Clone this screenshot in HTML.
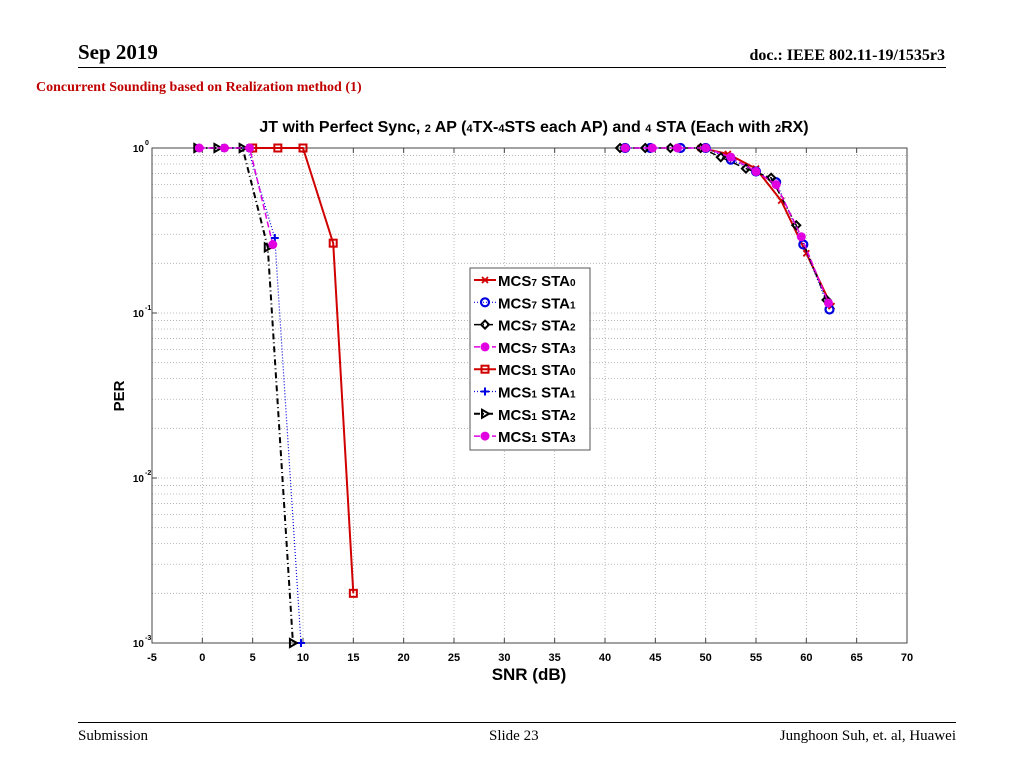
<!DOCTYPE html>
<html><head><meta charset="utf-8"><style>
body{margin:0;background:#fff;width:1024px;height:768px;overflow:hidden;position:relative;font-family:"Liberation Serif",serif}
.abs{position:absolute}
</style></head><body>
<div class="abs" style="left:78px;top:40px;font-size:21px;font-weight:bold">Sep 2019</div>
<div class="abs" style="right:79px;top:47px;font-size:16px;font-weight:bold">doc.: IEEE 802.11-19/1535r3</div>
<div class="abs" style="left:78px;top:67px;width:868px;height:1px;background:#000"></div>
<div class="abs" style="left:36px;top:80px;font-size:14px;font-weight:bold;color:#c00000">Concurrent Sounding based on Realization method (1)</div>
<div class="abs" style="left:78px;top:722px;width:878px;height:1px;background:#000"></div>
<div class="abs" style="left:78px;top:728px;font-size:15px">Submission</div>
<div class="abs" style="left:489px;top:728px;font-size:15px">Slide 23</div>
<div class="abs" style="right:68px;top:728px;font-size:15px">Junghoon Suh, et. al, Huawei</div>
<svg id="chart" class="abs" style="left:0;top:0" width="1024" height="768"></svg>
<script>
const xTicks=[-5,0,5,10,15,20,25,30,35,40,45,50,55,60,65,70];
const yDecades=[0,-1,-2,-3];
const m7s0x=[49.5,52.2,55,57.5,60,62.5], m7s0y=[1,0.92,0.75,0.48,0.23,0.11];
const m7s1x=[42,44.5,47.5,50,52.5,55,57,59.7,62.3], m7s1y=[1,1,1,1,0.85,0.72,0.62,0.26,0.105];
const m7s2x=[41.5,44,46.5,49.5,51.5,54,56.5,59,62], m7s2y=[1,1,1,1,0.88,0.75,0.66,0.34,0.12];
const m7s3x=[42,44.7,47.2,50,52.5,55,57,59.5,62.2], m7s3y=[1,1,1,1,0.88,0.72,0.6,0.29,0.115];
const m1s0x=[5,7.5,10,13,15], m1s0y=[1,1,1,0.265,0.002];
const m1s1x=[-0.5,2,4.5,7.2,9.8], m1s1y=[1,1,1,0.285,0.001];
const m1s2x=[-0.5,1.5,4,6.5,9], m1s2y=[1,1,1,0.25,0.001];
const m1s3x=[-0.3,2.2,4.7,7], m1s3y=[1,1,1,0.26];
const legendLabels=[["MCS","7","STA","0"],["MCS","7","STA","1"],["MCS","7","STA","2"],["MCS","7","STA","3"],["MCS","1","STA","0"],["MCS","1","STA","1"],["MCS","1","STA","2"],["MCS","1","STA","3"]];
const L=152,R=907,T=148,B=643;
const sx=v=>L+(v+5)/75*(R-L);
const sy=v=>T-Math.log10(v)*(B-T)/3;
const svg=document.getElementById('chart');
const NS='http://www.w3.org/2000/svg';
function mk(tag,at,parent){const e=document.createElementNS(NS,tag);for(const k in at)e.setAttribute(k,at[k]);(parent||svg).appendChild(e);return e;}
const grid=mk('g',{});


xTicks.forEach(t=>{if(t>-5&&t<70)mk('line',{x1:sx(t),x2:sx(t),y1:T,y2:B,stroke:'#aaa','stroke-width':0.8,'stroke-dasharray':'1,2'},grid);});
for(let d=-3;d<0;d++)for(let k=1;k<10;k++){const y=sy(k*Math.pow(10,d));if(y>T&&y<B)mk('line',{x1:L,x2:R,y1:y,y2:y,stroke:'#aaa','stroke-width':0.8,'stroke-dasharray':'1,2'},grid);}
mk('rect',{x:L,y:T,width:R-L,height:B-T,fill:'none',stroke:'#444','stroke-width':1});
xTicks.forEach(t=>{
 mk('line',{x1:sx(t),x2:sx(t),y1:B,y2:B-5,stroke:'#444'});mk('line',{x1:sx(t),x2:sx(t),y1:T,y2:T+5,stroke:'#444'});
 const tx=mk('text',{x:sx(t),y:B+18,'text-anchor':'middle','font-family':'Liberation Sans, sans-serif','font-size':11,'font-weight':'bold'});
 tx.textContent=t;
 
 
});
yDecades.forEach(d=>{
 const y=sy(Math.pow(10,d));
 mk('line',{x1:L,x2:L+5,y1:y,y2:y,stroke:'#444'});
 const tx=mk('text',{x:L-8,y:y+4,'text-anchor':'end','font-family':'Liberation Sans, sans-serif','font-size':10,'font-weight':'bold'});
 tx.textContent='10';
 
 
 const ex=mk('text',{x:L-7,y:y-3,'font-family':'Liberation Sans, sans-serif','font-size':7,'font-weight':'bold'});
 ex.textContent=String(d);
});
const title=mk('text',{x:534,y:132,'text-anchor':'middle','font-family':'Liberation Sans, sans-serif','font-size':16,'font-weight':'bold'});
title.innerHTML='JT with Perfect Sync, <tspan font-size="11">2</tspan> AP (<tspan font-size="11">4</tspan>TX-<tspan font-size="11">4</tspan>STS each AP) and <tspan font-size="11">4</tspan> STA (Each with <tspan font-size="11">2</tspan>RX)';


const xl=mk('text',{x:529,y:680,'text-anchor':'middle','font-family':'Liberation Sans, sans-serif','font-size':17,'font-weight':'bold'});
xl.textContent='SNR (dB)';


const yl=mk('text',{x:124,y:396,'text-anchor':'middle','font-family':'Liberation Sans, sans-serif','font-size':15,'font-weight':'bold',transform:'rotate(-90 124 396)'});
yl.textContent='PER';


function marker(g,type,x,y,c){
 if(type==='x'){mk('path',{d:`M${x-3},${y-3}L${x+3},${y+3}M${x-3},${y+3}L${x+3},${y-3}`,stroke:c,'stroke-width':1.8},g);}
 else if(type==='o'){mk('circle',{cx:x,cy:y,r:4,fill:'none',stroke:c,'stroke-width':2.2},g);}
 else if(type==='d'){mk('path',{d:`M${x-4},${y}L${x},${y-4}L${x+4},${y}L${x},${y+4}Z`,fill:'none',stroke:c,'stroke-width':2},g);}
 else if(type==='h'){mk('circle',{cx:x,cy:y,r:4.5,fill:c},g);}
 else if(type==='s'){mk('rect',{x:x-3.5,y:y-3.5,width:7,height:7,fill:'none',stroke:c,'stroke-width':2},g);}
 else if(type==='+'){mk('path',{d:`M${x-4},${y}L${x+4},${y}M${x},${y-4}L${x},${y+4}`,stroke:c,'stroke-width':2},g);}
 else if(type==='t'){mk('path',{d:`M${x-3},${y-4}L${x+4},${y}L${x-3},${y+4}Z`,fill:'none',stroke:c,'stroke-width':2},g);}
}
const series=[
 [m7s0x,m7s0y,'#d00000','x','',2,'series-mcs7-sta0'],
 [m7s1x,m7s1y,'#0000e0','o','1,2',1.2,'series-mcs7-sta1'],
 [m7s2x,m7s2y,'#000','d','6,3,1,3',1.5,'series-mcs7-sta2'],
 [m7s3x,m7s3y,'#e000e0','h','6,3',1.5,'series-mcs7-sta3'],
 [m1s0x,m1s0y,'#d00000','s','',2,'series-mcs1-sta0'],
 [m1s1x,m1s1y,'#0000e0','+','1,2',1.2,'series-mcs1-sta1'],
 [m1s2x,m1s2y,'#000','t','6,3,1,3',2,'series-mcs1-sta2'],
 [m1s3x,m1s3y,'#e000e0','h','6,3',1.5,'series-mcs1-sta3']];
series.forEach(s=>{
 const g=mk('g',{});
 
 
 const pts=s[0].map((x,i)=>sx(x)+','+sy(s[1][i])).join(' ');
 mk('polyline',{points:pts,fill:'none',stroke:s[2],'stroke-width':s[5],'stroke-dasharray':s[4]||'none'},g);
 s[0].forEach((x,i)=>marker(g,s[3],sx(x),sy(s[1][i]),s[2]));
});
const lg=mk('g',{});


mk('rect',{x:470,y:268,width:120,height:182,fill:'#fff',stroke:'#555','stroke-width':1},lg);
legendLabels.forEach((lab,i)=>{
 const s=series[i];const y=280+i*22.3;
 const e=mk('g',{},lg);
 
 
 mk('line',{x1:474,x2:496,y1:y,y2:y,stroke:s[2],'stroke-width':s[5],'stroke-dasharray':s[4]||'none'},e);
 marker(e,s[3],485,y,s[2]);
 const t=mk('text',{x:498,y:y+6,'font-family':'Liberation Sans, sans-serif','font-size':15,'font-weight':'bold'},e);
 t.innerHTML=`${lab[0]}<tspan font-size="10">${lab[1]}</tspan> ${lab[2]}<tspan font-size="10">${lab[3]}</tspan>`;
});
</script>
</body></html>
